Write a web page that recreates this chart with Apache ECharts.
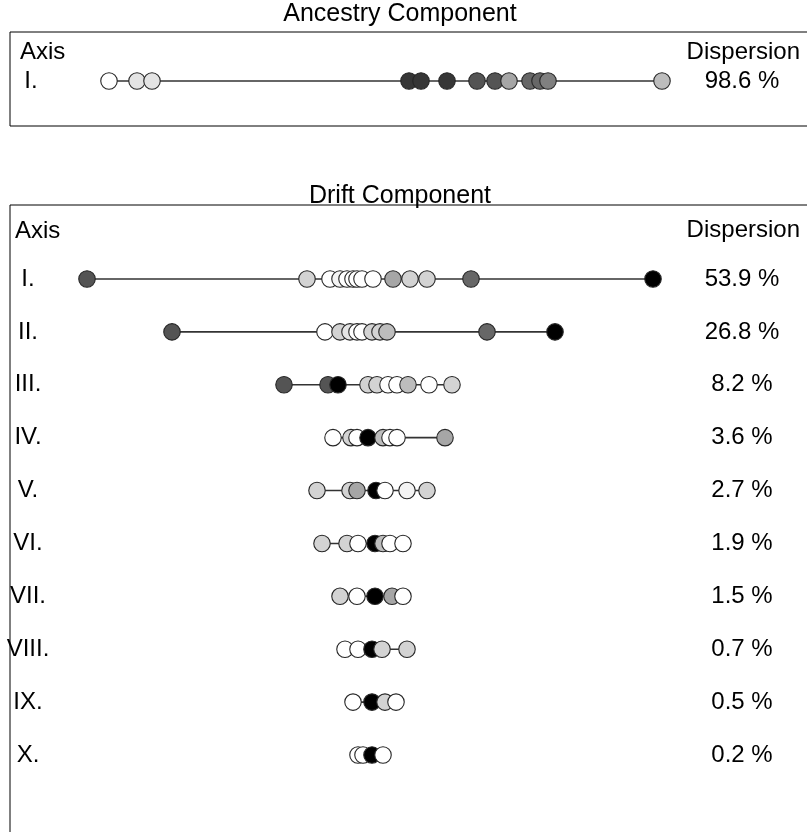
<!DOCTYPE html>
<html><head><meta charset="utf-8">
<script src="https://cdn.jsdelivr.net/npm/echarts@6/dist/echarts.min.js"></script>
<style>html,body{margin:0;padding:0;background:#fff}#c{width:807px;height:832px}</style>
</head><body><div id="c"></div>
<script>
// ---------- DATA ----------
const ancestryTitle = 'Ancestry Component';
const driftTitle = 'Drift Component';
const ancestryRowNames = ['I.'];
const ancestryDispersion = ['98.6 %'];
const ancestryScores = [-10.52, -9.4, -8.8, 1.48, 1.96, 3.0, 4.2, 4.92, 5.48, 6.32, 6.72, 7.04, 11.6];
const ancestryGroups = ['W', 'L2', 'L2', 'D3', 'D3', 'D3', 'D5', 'D5', 'M', 'D6', 'D6', 'G', 'M2'];

const driftRowNames = ['I.', 'II.', 'III.', 'IV.', 'V.', 'VI.', 'VII.', 'VIII.', 'IX.', 'X.'];
const driftDispersion = ['53.9 %', '26.8 %', '8.2 %', '3.6 %', '2.7 %', '1.9 %', '1.5 %', '0.7 %', '0.5 %', '0.2 %'];

const driftI    = [-11.4, -2.6, -1.68, -1.28, -1.0, -0.76, -0.6, -0.4, 0.04, 0.84, 1.52, 2.2, 3.96, 11.24];
const driftIG   = ['D5', 'L', 'W', 'W2', 'W', 'W', 'W', 'W', 'W', 'M', 'L', 'L', 'D6', 'K'];
const driftII   = [-8.0, -1.88, -1.28, -0.88, -0.6, -0.4, 0.0, 0.32, 0.6, 4.6, 7.32];
const driftIIG  = ['D5', 'W', 'L', 'L2', 'W', 'W', 'L', 'L', 'M2', 'D6', 'K'];
const driftIII  = [-3.52, -1.76, -1.36, -0.16, 0.2, 0.64, 1.0, 1.44, 2.28, 3.2];
const driftIIIG = ['D5', 'D5', 'K', 'L', 'L', 'W', 'W', 'M2', 'W', 'L'];
const driftIV   = [-1.56, -0.84, -0.6, -0.16, 0.44, 0.72, 1.0, 2.92];
const driftIVG  = ['W', 'L', 'W', 'K', 'M2', 'W', 'W', 'M'];
const driftV    = [-2.2, -0.88, -0.6, 0.16, 0.52, 1.4, 2.2];
const driftVG   = ['L', 'L', 'M', 'K', 'W', 'W2', 'L'];
const driftVI   = [-2.0, -1.0, -0.56, 0.12, 0.44, 0.72, 1.24];
const driftVIG  = ['L', 'L', 'W', 'K', 'M2', 'W', 'W'];
const driftVII  = [-1.28, -0.6, 0.12, 0.8, 1.24];
const driftVIIG = ['L', 'W', 'K', 'M', 'W'];
const driftVIII = [-1.08, -0.56, 0.0, 0.4, 1.4];
const driftVIIIG= ['W', 'W', 'K', 'L', 'L'];
const driftIX   = [-0.76, 0.0, 0.52, 0.96];
const driftIXG  = ['W', 'K', 'L', 'W'];
const driftX    = [-0.56, -0.36, 0.0, 0.44];
const driftXG   = ['W', 'W', 'K', 'W'];

const driftRows = [
  [driftI, driftIG], [driftII, driftIIG], [driftIII, driftIIIG], [driftIV, driftIVG],
  [driftV, driftVG], [driftVI, driftVIG], [driftVII, driftVIIG], [driftVIII, driftVIIIG],
  [driftIX, driftIXG], [driftX, driftXG]
];

// ---------- STYLE ----------
const FILL = {
  W: '#ffffff', W2: '#f4f4f4', L2: '#e4e4e4', L: '#d3d3d3', M2: '#bdbdbd', M: '#a6a6a6',
  G: '#808080', D6: '#676767', D5: '#545454', D3: '#363636', K: '#000000'
};
const FONT = '"Liberation Sans", Arial, sans-serif';
const FS = 24;
const FT = 25;
const X_MIN = -14.48, X_MAX = 17.72;

const chart = echarts.init(document.getElementById('c'), null, {renderer: 'canvas'});

const series = [];
function addRow(scores, groups, row, gi) {
  series.push({
    type: 'line', xAxisIndex: gi, yAxisIndex: gi * 2,
    data: [[Math.min(...scores), row], [Math.max(...scores), row]],
    showSymbol: false, symbol: 'none', silent: true,
    lineStyle: {color: '#333', width: 1.6}, z: 2
  });
  series.push({
    type: 'scatter', xAxisIndex: gi, yAxisIndex: gi * 2,
    symbol: 'circle', symbolSize: 16.5, z: 3,
    itemStyle: {borderColor: '#262626', borderWidth: 1.1, opacity: 1},
    data: scores.map((s, i) => ({value: [s, row], itemStyle: {color: FILL[groups[i]]}}))
  });
}
addRow(ancestryScores, ancestryGroups, 1, 0);
driftRows.forEach((r, i) => addRow(r[0], r[1], i + 1, 1));

function yAxes(gi, min, max, names, disp, leftMargin) {
  const vals = names.map((_, i) => i + 1);
  const common = {
    type: 'value', gridIndex: gi, min: min, max: max, inverse: true,
    axisLine: {show: false}, axisTick: {show: false}, splitLine: {show: false}
  };
  return [
    Object.assign({}, common, {position: 'left', axisLabel: {
      inside: true, align: 'center', margin: leftMargin, customValues: vals,
      formatter: v => names[Math.round(v) - 1] || '', color: '#000', fontSize: FS, fontFamily: FONT
    }}),
    Object.assign({}, common, {position: 'right', axisLabel: {
      inside: true, align: 'center', margin: 73, customValues: vals,
      formatter: v => disp[Math.round(v) - 1] || '', color: '#000', fontSize: FS, fontFamily: FONT
    }})
  ];
}

const txt = (t, x, y, align, fs) => ({
  type: 'text', x: x, y: y, silent: true,
  style: {text: t, fill: '#000', font: (fs || FS) + 'px ' + FONT, textAlign: align, textVerticalAlign: 'middle'}
});

chart.setOption({
  animation: false,
  backgroundColor: '#fff',
  grid: [
    {left: 10, top: 32, width: 805, height: 94, show: true, borderColor: '#000', borderWidth: 1,
     backgroundColor: 'transparent', outerBoundsMode: 'none', containLabel: false},
    {left: 10, top: 205, width: 805, height: 629, show: true, borderColor: '#000', borderWidth: 1,
     backgroundColor: 'transparent', outerBoundsMode: 'none', containLabel: false}
  ],
  xAxis: [
    {type: 'value', gridIndex: 0, min: X_MIN, max: X_MAX, show: false},
    {type: 'value', gridIndex: 1, min: X_MIN, max: X_MAX, show: false}
  ],
  yAxis: [].concat(
    yAxes(0, -0.69, 2.55, ancestryRowNames, ancestryDispersion, 21),
    yAxes(1, -0.399, 11.494, driftRowNames, driftDispersion, 18)
  ),
  graphic: [
    txt(ancestryTitle, 400, 14, 'center', FT),
    txt(driftTitle, 400, 196, 'center', FT),
    txt('Axis', 20, 52, 'left'),
    txt('Dispersion', 800, 52, 'right'),
    txt('Axis', 15, 231, 'left'),
    txt('Dispersion', 800, 230, 'right')
  ],
  series: series
});
</script></body></html>
